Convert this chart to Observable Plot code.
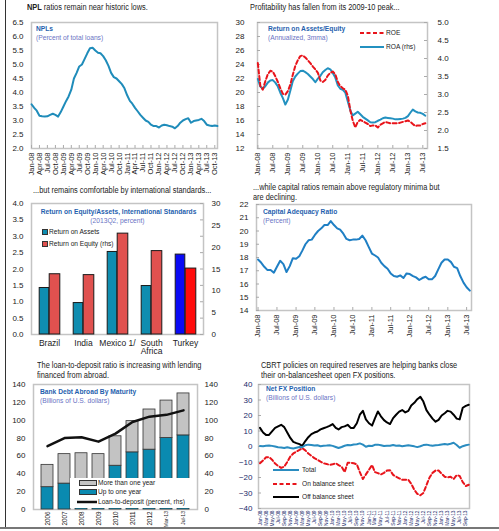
<!DOCTYPE html>
<html><head><meta charset="utf-8">
<script src="https://cdn.jsdelivr.net/npm/d3@7"></script>
<script src="https://cdn.jsdelivr.net/npm/@observablehq/plot@0.6"></script>
<style>
body{margin:0;background:#fff;}
#page{position:relative;width:499px;height:531px;background:#fff;font-family:"Liberation Sans Narrow","Arial Narrow","Liberation Sans",sans-serif;}
#clip{position:absolute;left:0;top:0;width:499px;height:527px;overflow:hidden;}
.abs{position:absolute;white-space:nowrap;}
.abs > span{display:inline-block;transform-origin:left top;}
.head{font-size:8.5px;color:#222;line-height:10px;}
.head > span{transform:scaleX(0.87);}
.t1{font-size:7.5px;font-weight:bold;color:#1f5fae;line-height:9px;}
.t2{font-size:7.5px;color:#6a73c4;line-height:9px;}
.t1 > span,.t2 > span{transform:scaleX(0.89);}
.leg{font-size:7.5px;color:#222;}
.leg > span{transform:scaleX(0.88);}
.center{text-align:center;}
.center > span{transform-origin:center top;}
</style></head>
<body><div id="page"><div id="clip"></div></div>
<script>
// ---------- DATA ----------
const nplValues = [3.58,3.45,3.35,3.17,3.15,3.14,3.15,3.2,3.24,3.2,3.14,3.3,3.5,3.7,3.86,4.1,4.5,4.7,4.93,5.0,5.2,5.4,5.58,5.6,5.5,5.42,5.4,5.3,5.15,4.95,4.7,4.55,4.5,4.4,4.3,4.15,3.9,3.7,3.6,3.45,3.33,3.2,3.1,3.0,2.95,2.85,2.8,2.8,2.75,2.82,2.85,2.83,2.8,2.78,2.72,2.8,2.92,3.0,3.05,3.08,2.92,2.98,3.0,3.02,3.06,2.98,2.85,2.82,2.8,2.82,2.8];
const nplTicks = ["Jan-08","Apr-08","Jul-08","Oct-08","Jan-09","Apr-09","Jul-09","Oct-09","Jan-10","Apr-10","Jul-10","Oct-10","Jan-11","Apr-11","Jul-11","Oct-11","Jan-12","Apr-12","Jul-12","Oct-12","Jan-13","Apr-13","Jul-13","Oct-13"];

const roaValues = [3.43,3.22,3.16,3.23,3.33,3.39,3.4,3.33,3.22,3.05,2.9,2.72,2.86,3.12,3.37,3.5,3.58,3.65,3.66,3.62,3.57,3.5,3.43,3.34,3.44,3.52,3.62,3.68,3.73,3.7,3.6,3.47,3.25,3.16,3.13,3.05,2.8,2.55,2.42,2.47,2.52,2.45,2.38,2.33,2.28,2.23,2.22,2.23,2.27,2.3,2.34,2.36,2.35,2.34,2.33,2.31,2.31,2.32,2.33,2.35,2.4,2.5,2.58,2.53,2.5,2.49,2.46,2.41];
const roeValues = [24.2,20.9,20.4,21.6,22.6,23.1,23.0,22.3,21.5,20.6,19.8,19.7,20.2,21.2,22.5,23.8,24.6,25.2,25.3,25.0,24.6,24.2,23.7,23.3,22.8,21.7,21.5,21.8,22.4,22.8,23.0,22.6,21.5,20.9,20.6,20.4,19.5,17.4,16.0,15.0,15.8,16.1,15.9,15.7,15.5,15.2,15.3,15.3,15.0,15.4,15.6,15.8,15.7,15.6,15.6,15.6,15.6,15.7,15.8,15.9,16.0,15.8,15.5,15.2,15.3,15.3,15.5,15.6];
const halfYearTicks = ["Jan-08","Jul-08","Jan-09","Jul-09","Jan-10","Jul-10","Jan-11","Jul-11","Jan-12","Jul-12","Jan-13","Jul-13"];

const countries = ["Brazil","India","Mexico 1/","South Africa","Turkey"];
const countryLabels = ["Brazil","India","Mexico 1/","South\nAfrica","Turkey"];
const roaIntl = [1.42,0.96,2.52,1.48,2.44];
const roeIntl = [13.8,13.6,23.1,19.1,15.1];

const carValues = [17.85,17.6,17.3,17.05,17.05,16.85,17.3,17.75,17.5,16.9,17.35,17.95,17.9,18.1,18.5,19.0,19.3,19.35,19.7,20.0,20.2,20.45,20.45,20.75,20.45,20.2,20.1,19.8,19.4,19.3,19.35,19.35,19.4,19.65,19.3,18.8,18.3,18.15,18.0,17.6,17.35,17.15,16.8,16.6,16.55,16.65,16.45,16.8,16.75,16.6,16.5,16.3,16.45,16.55,16.35,16.35,16.6,17.1,17.6,17.85,17.85,17.65,17.3,17.2,16.6,16.1,15.75,15.5];

const debtPeriods = ["2006","2007","2008","2009","2010","2011","2012","Mar-13","Jul-13"];
const debtShort = [25,29,30,27,49,64,67,80,83];
const debtLong = [25,33,33,35,33,35,45,42,47];
const loanToDeposit = [71,80,81,76,85,98,104,106,111];

const fxOff = [12,9,7.5,7.5,9.7,12,13,14,12.5,9,5.5,3,2.2,1.5,0.4,3.5,6,8,9,9.7,11,11.8,12.5,13.3,14.5,12,11,12.5,13,14,12,12,15,20.5,23,17.5,15,13.5,18,22.6,19.5,17,15.5,14.5,18.3,20.5,22.5,23.5,22,23,26.5,28.2,30.5,32,29,23.5,20.5,18,16,17.2,20,21.5,23,22.5,20.5,18,17.5,25,26.2,26.9];
const fxOn = [-10.8,-9,-7,-6.8,-8.5,-11,-12.5,-13.8,-13,-10,-6.5,-4.5,-3.3,-2.2,-1.1,-2.5,-4.5,-6,-7.5,-8.6,-9.8,-10.8,-11.3,-11.8,-11.5,-10.8,-12,-13,-16.5,-10.5,-10.5,-10.8,-11.5,-16.5,-21,-18,-15,-12,-16.5,-17.2,-18,-17,-15.5,-15.3,-18.3,-19.5,-20.5,-21.5,-21.5,-21.5,-24,-28,-30.5,-31.5,-30,-25,-20,-17,-15.5,-15.5,-17.5,-19.5,-20,-19.5,-21,-18.5,-19,-23,-25.5,-24.7];
const fxTotal = [0.3,0.2,0.5,0.6,0.4,0,-0.5,-0.6,-1.0,-0.5,-1,-1.3,-0.8,-0.3,-0.5,0.8,1.2,1.0,0.6,0.8,0.2,0.5,0.6,0.8,0.4,-0.3,-1.0,-0.3,0.5,1.0,0.8,1.3,1.5,2.0,1.2,-0.2,0.5,0.3,1.1,1.2,0.8,0.3,0.5,0.5,1.0,0.5,0.6,0.2,0.5,0.8,0.5,0.1,-0.4,0.2,0.9,1.2,0.8,0.5,0.8,1.0,1.3,1.6,1.3,1.8,2.4,1.0,-0.8,0.2,0.8,1.2];
const fxTicks = ["Jan-08","Mar-08","May-08","Jul-08","Sep-08","Nov-08","Jan-09","Mar-09","May-09","Jul-09","Sep-09","Nov-09","Jan-10","Mar-10","May-10","Jul-10","Sep-10","Nov-10","Jan-11","Mar-11","May-11","Jul-11","Sep-11","Nov-11","Jan-12","Mar-12","May-12","Jul-12","Sep-12","Nov-12","Jan-13","Mar-13","May-13","Jul-13","Sep-13"];

// ---------- HELPERS ----------
const FONT = '"Liberation Sans Narrow","Arial Narrow","Liberation Sans",sans-serif';
const clip = document.getElementById("clip");
const parseM = d3.utcParse("%b-%y");
const fmtM = d3.utcFormat("%b-%y");
const month = i => new Date(Date.UTC(2008, i, 1));
const series = vals => vals.map((v, i) => ({date: month(i), v}));
const FRAME = "#c4c4c4";
const AX = "#222";
function style(extra) { return Object.assign({background: "transparent", fontFamily: FONT, fontSize: "8px", color: AX, overflow: "visible"}, extra || {}); }
function place(node, left, top) { node.style.position = "absolute"; node.style.left = left + "px"; node.style.top = top + "px"; clip.append(node); return node; }
function html(str, cls, left, top, width) {
  const d = document.createElement("div"); d.className = "abs " + cls;
  const lines = str.split("<br>");
  d.innerHTML = lines.map(l => `<span>${l}</span>`).join("<br>");
  if (width) { d.style.width = width + "px"; d.classList.add("center"); }
  return place(d, left, top);
}
function legSwatch(left, top, w, h, fill) { const d = document.createElement("div"); d.style.cssText = `width:${w}px;height:${h}px;background:${fill};border:1px solid #333;box-sizing:border-box;`; return place(d, left, top); }
function legLine(left, top, w, color, dash, sw) {
  const ns = "http://www.w3.org/2000/svg";
  const s = document.createElementNS(ns, "svg"); s.setAttribute("width", w); s.setAttribute("height", 6);
  const l = document.createElementNS(ns, "line"); l.setAttribute("x1", 0); l.setAttribute("x2", w); l.setAttribute("y1", 3); l.setAttribute("y2", 3);
  l.setAttribute("stroke", color); l.setAttribute("stroke-width", sw); if (dash) l.setAttribute("stroke-dasharray", dash);
  s.append(l); s.style.position = "absolute"; s.style.left = left + "px"; s.style.top = (top - 3) + "px"; clip.append(s); return s;
}
const innerTicksX = (ticks, innerH) => Plot.tickX(ticks, {x: d => d, stroke: "#aaa", strokeWidth: 1, insetTop: innerH - 3});

// ---------- PANEL 1: NPL ----------
{
  const W = 245, H = 182, mt = 22, mb = 34;
  const ticks = nplTicks.map(parseM);
  const p = Plot.plot({
    width: W, height: H, marginLeft: 31, marginRight: 28, marginTop: mt, marginBottom: mb,
    style: style(),
    x: {type: "utc", domain: [month(0), month(70)]},
    y: {domain: [2, 6.5]},
    marks: [
      Plot.frame({stroke: FRAME, strokeWidth: 1.5}),
      innerTicksX(ticks, H - mt - mb),
      Plot.axisY(d3.range(2, 6.51, 0.5), {tickFormat: d3.format(".1f"), tickSize: 0, tickPadding: 8, label: null}),
      Plot.axisX(ticks, {tickFormat: fmtM, tickRotate: -90, tickSize: 0, tickPadding: 4, fontSize: 7.5, label: null}),
      Plot.line(series(nplValues), {x: "date", y: "v", stroke: "#1f8cba", strokeWidth: 2})
    ]
  });
  place(p, 0, 0);
  html("<b>NPL</b> ratios remain near historic lows.", "head", 27, 2);
  html("NPLs", "t1", 36, 24);
  html("(Percent of total loans)", "t2", 36, 33);
}

// ---------- PANEL 2: ROA / ROE ----------
{
  const W = 274, H = 182, mt = 22, mb = 34;
  const toLeft = r => 12 + (r - 1.5) * 18 / 3.5;
  const fromLeft = l => 1.5 + (l - 12) * 3.5 / 18;
  const ticks = halfYearTicks.map(parseM);
  const innerW = W - 32 - 72;
  const p = Plot.plot({
    width: W, height: H, marginLeft: 32, marginRight: 72, marginTop: mt, marginBottom: mb,
    style: style(),
    x: {type: "utc", domain: [new Date(Date.UTC(2007, 11, 28)), new Date(Date.UTC(2013, 7, 27))]},
    y: {domain: [12, 30]},
    marks: [
      Plot.frame({stroke: FRAME, strokeWidth: 1.5}),
      innerTicksX(ticks, H - mt - mb),
      Plot.tickY(d3.range(12, 30.1, 2), {y: d => d, stroke: "#aaa", insetRight: innerW - 3}),
      Plot.tickY(d3.range(1.5, 5.01, 0.5).map(toLeft), {y: d => d, stroke: "#aaa", insetLeft: innerW - 3}),
      Plot.axisY(d3.range(12, 30.1, 2), {tickSize: 0, tickPadding: 13, label: null}),
      Plot.axisY(d3.range(1.5, 5.01, 0.5).map(toLeft), {anchor: "right", tickSize: 0, tickPadding: 10, tickFormat: d => d3.format(".1f")(fromLeft(d)), label: null}),
      Plot.axisX(ticks, {tickFormat: fmtM, tickRotate: -90, tickSize: 0, tickPadding: 4, fontSize: 7.5, label: null}),
      Plot.line(series(roaValues).map(d => ({date: d.date, v: toLeft(d.v)})), {x: "date", y: "v", stroke: "#2391c0", strokeWidth: 2}),
      Plot.line(series(roeValues), {x: "date", y: "v", stroke: "#e8141b", strokeWidth: 2, strokeDasharray: "4,2.5"})
    ]
  });
  place(p, 225, 0);
  html("Profitability has fallen from its 2009-10 peak...", "head", 250, 2);
  html("Return on Assets/Equity", "t1", 268, 24);
  html("(Annualized, 3mma)", "t2", 268, 33);
  legLine(360, 33, 24, "#e8141b", "4,2.5", 2);
  html("ROE", "leg", 386, 28);
  legLine(360, 47, 24, "#2391c0", null, 2);
  html("ROA (rhs)", "leg", 386, 42);
}

// ---------- PANEL 3: International bars ----------
{
  const W = 245, H = 180, ml = 31, mr = 42;
  const step = (W - ml - mr) / countries.length;
  const rows = countries.map((c, i) => ({c, roa: roaIntl[i], roe: roeIntl[i] / 7.5}));
  const labelOf = new Map(countries.map((c, i) => [c, countryLabels[i]]));
  const innerW = W - ml - mr;
  const p = Plot.plot({
    width: W, height: H, marginLeft: ml, marginRight: mr, marginTop: 23, marginBottom: 26,
    style: style({fontSize: "8.5px"}),
    x: {domain: countries, padding: 0},
    y: {domain: [0, 4]},
    marks: [
      Plot.frame({stroke: FRAME, strokeWidth: 1.5}),
      Plot.tickY(d3.range(0, 4.01, 0.5), {y: d => d, stroke: "#aaa", insetLeft: innerW - 3}),
      Plot.axisY(d3.range(0, 4.01, 0.5), {tickFormat: d3.format(".1f"), tickSize: 0, tickPadding: 8, fontSize: 8, label: null}),
      Plot.axisY(d3.range(0, 30.1, 5).map(v => v / 7.5), {anchor: "right", tickFormat: d => d3.format("d")(Math.round(d * 7.5)), tickSize: 0, tickPadding: 8, fontSize: 8, label: null}),
      Plot.axisX({tickSize: 0, tickPadding: 5, tickFormat: c => labelOf.get(c), label: null}),
      Plot.barY(rows, {x: "c", y: "roa", fill: d => d.c === "Turkey" ? "#0a0af5" : "#0f8db0", stroke: "#1a1a1a", strokeWidth: 1, insetLeft: step / 2 - 10, insetRight: step / 2}),
      Plot.barY(rows, {x: "c", y: "roe", fill: d => d.c === "Turkey" ? "#ff0a0a" : "#e0514f", stroke: "#1a1a1a", strokeWidth: 1, insetLeft: step / 2, insetRight: step / 2 - 11})
    ]
  });
  place(p, 0, 180);
  html("...but remains comfortable by international standards...", "head", 33, 185);
  html("Return on Equity/Assets, International Standards", "t1", 31, 207, 172);
  html("(2013Q2, percent)", "t2", 31, 216, 172);
  legSwatch(42, 229, 6, 6, "#0f8db0");
  html("Return on Assets", "leg", 49, 227);
  legSwatch(42, 241, 6, 6, "#e0514f");
  html("Return on Equity (rhs)", "leg", 49, 239);
}

// ---------- PANEL 4: CAR ----------
{
  const W = 274, H = 180, mt = 24, mb = 50, ml = 31, mr = 28;
  const ticks = halfYearTicks.map(parseM);
  const innerW = W - ml - mr;
  const p = Plot.plot({
    width: W, height: H, marginLeft: ml, marginRight: mr, marginTop: mt, marginBottom: mb,
    style: style(),
    x: {type: "utc", domain: [new Date(Date.UTC(2007, 11, 17)), new Date(Date.UTC(2013, 7, 17))]},
    y: {domain: [14, 22]},
    marks: [
      Plot.frame({stroke: FRAME, strokeWidth: 1.5}),
      innerTicksX(ticks, H - mt - mb),
      Plot.tickY(d3.range(14, 22.1, 1), {y: d => d, stroke: "#aaa", insetRight: innerW - 3}),
      Plot.axisY(d3.range(14, 22.1, 1), {tickSize: 0, tickPadding: 8, label: null}),
      Plot.axisX(ticks, {tickFormat: fmtM, tickRotate: -90, tickSize: 0, tickPadding: 4, fontSize: 7.5, label: null}),
      Plot.line(series(carValues), {x: "date", y: "v", stroke: "#1f7fc4", strokeWidth: 2})
    ]
  });
  place(p, 225, 180);
  html("...while capital ratios remain above regulatory minima but<br>are declining.", "head", 253, 182);
  html("Capital Adequacy Ratio", "t1", 263, 207);
  html("(Percent)", "t2", 263, 216);
}

// ---------- PANEL 5: Bank debt abroad ----------
{
  const W = 245, H = 200, ml = 33, mr = 48, mt = 24, mb = 51;
  const stacked = debtPeriods.flatMap((p, i) => [
    {p, s: "Up to one year", v: debtShort[i]},
    {p, s: "More than one year", v: debtLong[i]}
  ]);
  const ltd = debtPeriods.map((p, i) => ({p, v: loanToDeposit[i]}));
  const p = Plot.plot({
    width: W, height: H, marginLeft: ml, marginRight: mr, marginTop: mt, marginBottom: mb,
    style: style(),
    x: {domain: debtPeriods, padding: 0.28},
    y: {domain: [0, 140]},
    color: {domain: ["Up to one year", "More than one year"], range: ["#0a8ab0", "#c3c3c3"]},
    marks: [
      Plot.frame({stroke: FRAME, strokeWidth: 1.5}),
      Plot.axisY(d3.range(0, 140.1, 20), {tickSize: 0, tickPadding: 8, label: null}),
      Plot.axisY(d3.range(0, 140.1, 20), {anchor: "right", tickSize: 0, tickPadding: 7, label: null}),
      Plot.axisX(debtPeriods.slice(0, 7), {tickRotate: -90, tickSize: 0, tickPadding: 2, fontSize: 6.3, label: null}),
      Plot.axisX(debtPeriods.slice(7), {tickRotate: -90, tickSize: 0, tickPadding: 1.5, fontSize: 5.1, label: null}),
      Plot.barY(stacked, {x: "p", y: "v", fill: "s", stroke: "#333", strokeWidth: 0.8}),
      Plot.line(ltd, {x: "p", y: "v", stroke: "#111", strokeWidth: 2.5})
    ]
  });
  place(p, 0, 360);
  html("The loan-to-deposit ratio is increasing with lending<br>financed from abroad.", "head", 37, 360);
  html("Bank Debt Abroad By Maturity", "t1", 40, 387);
  html("(Billions of U.S. dollars)", "t2", 40, 396);
  const box = document.createElement("div"); box.style.cssText = "width:122px;height:30px;background:#fff;"; place(box, 70, 478);
  legSwatch(79, 480, 18, 6, "#c3c3c3");
  html("More than one year", "leg", 98, 478);
  legSwatch(79, 489, 18, 6, "#0a8ab0");
  html("Up to one year", "leg", 98, 487);
  legLine(77, 502, 20, "#111", null, 2.5);
  html("Loan-to-deposit (percent, rhs)", "leg", 98, 497);
}

// ---------- PANEL 6: Net FX position ----------
{
  const W = 274, H = 200, ml = 33, mr = 30, mt = 24, mb = 52;
  const ticks = fxTicks.map(parseM);
  const innerW = W - ml - mr;
  const p = Plot.plot({
    width: W, height: H, marginLeft: ml, marginRight: mr, marginTop: mt, marginBottom: mb,
    style: style(),
    x: {type: "utc", domain: [new Date(Date.UTC(2007, 11, 17)), new Date(Date.UTC(2013, 9, 8))]},
    y: {domain: [-40, 40]},
    marks: [
      Plot.frame({stroke: FRAME, strokeWidth: 1.5}),
      Plot.tickY(d3.range(-40, 40.1, 10), {y: d => d, stroke: "#aaa", insetRight: innerW - 3}),
      Plot.axisY(d3.range(-40, 40.1, 10), {tickSize: 0, tickPadding: 6, label: null, color: "#1a2a6a"}),
      Plot.axisX(ticks, {tickFormat: fmtM, tickRotate: -90, tickSize: 0, tickPadding: 2, fontSize: 4.8, label: null, color: "#1a2a6a"}),
      Plot.line(series(fxOff), {x: "date", y: "v", stroke: "#000", strokeWidth: 2}),
      Plot.line(series(fxOn), {x: "date", y: "v", stroke: "#e8141b", strokeWidth: 2, strokeDasharray: "4,2.5"}),
      Plot.line(series(fxTotal), {x: "date", y: "v", stroke: "#2a8cc0", strokeWidth: 2})
    ]
  });
  place(p, 225, 360);
  html("CBRT policies on required reserves are helping banks close<br>their on-balancesheet open FX positions.", "head", 261, 360);
  html("Net FX Position", "t1", 266, 384);
  html("(Billions of U.S. dollars)", "t2", 266, 393);
  legLine(273, 470, 26, "#2a8cc0", null, 2);
  html("Total", "leg", 302, 465);
  legLine(273, 484, 26, "#e8141b", "4,2.5", 2);
  html("On balance sheet", "leg", 302, 479);
  legLine(273, 497, 26, "#000", null, 2);
  html("Off balance sheet", "leg", 302, 492);
}

// page borders
{
  const l = document.createElement("div"); l.style.cssText = "position:absolute;left:5px;top:0;width:1px;height:528px;background:#333;";
  document.getElementById("page").append(l);
  const b = document.createElement("div"); b.style.cssText = "position:absolute;left:0;top:527px;width:499px;height:1.5px;background:#777;";
  document.getElementById("page").append(b);
}
</script>
</body></html>
